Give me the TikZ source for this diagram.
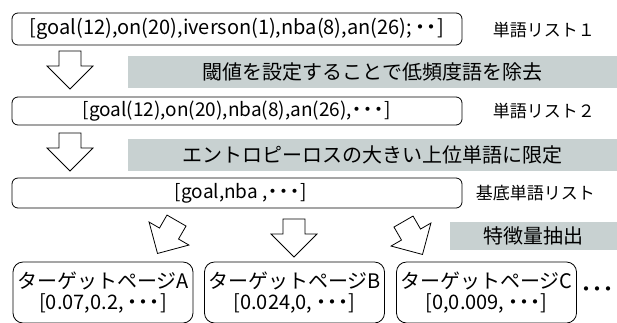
\documentclass[tikz,border=0pt]{standalone}
\usepackage{fontspec}
\setmainfont{Noto Sans CJK JP}
\definecolor{bandgray}{RGB}{200,209,209}
\newcommand\mydot{\makebox[11pt]{・}}
\begin{document}
\begin{tikzpicture}[x=1pt,y=-1pt,
  listbox/.style={draw, line width=0.8pt, rounded corners=6pt, minimum width=450pt, inner sep=0pt, font=\fontsize{20}{22}\selectfont},
  band/.style={fill=bandgray, inner sep=0pt, font=\fontsize{20}{22}\selectfont},
  listlabel/.style={anchor=east, inner sep=0pt, font=\fontsize{17}{19}\selectfont},
  pagebox/.style={draw, line width=0.8pt, rounded corners=10pt, minimum width=180pt, minimum height=61pt, inner sep=0pt, align=center, font=\fontsize{20}{21}\selectfont},
  arrowline/.style={draw, fill=white, line width=0.8pt, line join=miter},
  blockarr/.pic={\path[arrowline] (-11,-19) -- (11,-19) -- (11,-4) -- (23,-4) -- (0,19) -- (-23,-4) -- (-11,-4) -- cycle;}
]
\useasboundingbox (0,0) rectangle (617,322);
% list boxes
\node[listbox, minimum height=32pt] (b1) at (237,29) {[goal(12),on(20),iverson(1),nba(8),an(26);\,\mydot\mydot]};
\node[listbox, minimum height=28pt, font=\fontsize{19}{21}\selectfont] (b2) at (237,111) {[goal(12),on(20),nba(8),an(26),\mydot\mydot\mydot]};
\node[listbox, minimum height=30pt, font=\fontsize{19}{21}\selectfont] (b3) at (237,193) {\hspace*{8pt}[goal,nba ,\mydot\mydot\mydot]};
% labels
\node[listlabel] (l1) at (595,30) {単語リスト１};
\node[listlabel] (l2) at (595,111) {単語リスト２};
\node[listlabel] (l3) at (595,193) {基底単語リスト};
% bands
\node[band, minimum width=489pt, minimum height=32pt] (s1) at (372.5,72) {閾値を設定することで低頻度語を除去};
\node[band, minimum width=489pt, minimum height=32pt] (s2) at (372.5,155) {エントロピーロスの大きい上位単語に限定};
\node[band, minimum width=167pt, minimum height=28pt] (s3) at (533.5,236) {特徴量抽出};
% arrows
\pic at (70,70) {blockarr};
\pic at (70,152) {blockarr};
\pic[rotate=-30] at (167,237) {blockarr};
\pic at (294,238) {blockarr};
\pic[rotate=30] at (413,238) {blockarr};
% page boxes
\node[pagebox] (pa) at (103,292.5) {ターゲットページA\\{}[0.07,0.2,\,\mydot\mydot\mydot]};
\node[pagebox] (pb) at (294.5,292.5) {ターゲットページB\\{}[0.024,0,\,\mydot\mydot\mydot]};
\node[pagebox] (pc) at (486.5,292.5) {ターゲットページC\\{}[0,0.009,\,\mydot\mydot\mydot]};
\node[inner sep=0pt, font=\fontsize{20}{22}\selectfont] (dots) at (597,292) {\mydot\mydot\mydot};
\end{tikzpicture}
\end{document}
